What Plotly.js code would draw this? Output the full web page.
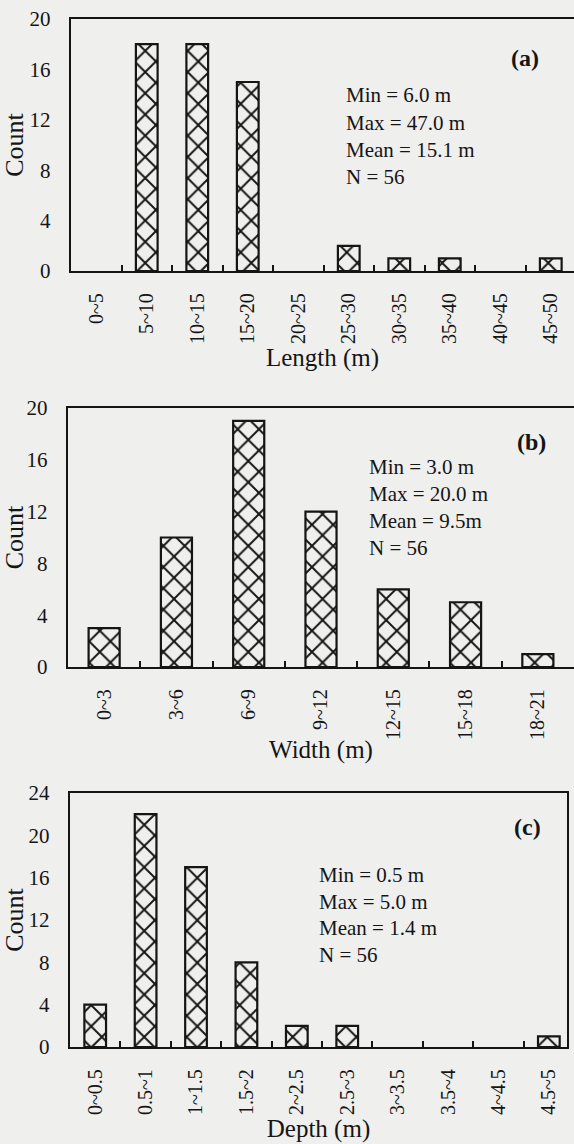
<!DOCTYPE html>
<html>
<head>
<meta charset="utf-8">
<script src="https://cdn.plot.ly/plotly-3.0.1.min.js"></script>
<style>html,body{margin:0;padding:0;background:#efefee;}</style>
</head>
<body>
<div id="chart" style="width:574px;height:1144px;"></div>
<script>
// Panel (a): length
const lengthBins = ["0~5","5~10","10~15","15~20","20~25","25~30","30~35","35~40","40~45","45~50"];
const lengthCounts = [0,18,18,15,0,2,1,1,0,1];
const lengthStats = ["Min = 6.0 m","Max = 47.0 m","Mean = 15.1 m","N = 56"];

// Panel (b): width
const widthBins = ["0~3","3~6","6~9","9~12","12~15","15~18","18~21"];
const widthCounts = [3,10,19,12,6,5,1];
const widthStats = ["Min = 3.0 m","Max = 20.0 m","Mean = 9.5m","N = 56"];

// Panel (c): depth
const depthBins = ["0~0.5","0.5~1","1~1.5","1.5~2","2~2.5","2.5~3","3~3.5","3.5~4","4~4.5","4.5~5"];
const depthCounts = [4,22,17,8,2,2,0,0,0,1];
const depthStats = ["Min = 0.5 m","Max = 5.0 m","Mean = 1.4 m","N = 56"];

const panelLabels = ["(a)","(b)","(c)"];
const axisTitles = ["Length (m)","Width (m)","Depth (m)"];

const W = 574, H = 1144;
const FONT = "Liberation Serif, Times New Roman, serif";
const INK = "#151515";
const BG = "#efefee";

function barTrace(x, y, xa, ya) {
  return {
    type: "bar", x: x, y: y, xaxis: xa, yaxis: ya,
    width: 0.43,
    marker: {
      color: BG,
      line: {color: INK, width: y.map(function (v) { return v > 0 ? 2.2 : 0; })},
      pattern: {shape: "x", fgcolor: INK, bgcolor: BG, size: 15, solidity: 0.24}
    },
    hoverinfo: "x+y", showlegend: false
  };
}

const data = [
  barTrace(lengthBins, lengthCounts, "x", "y"),
  barTrace(widthBins, widthCounts, "x2", "y2"),
  barTrace(depthBins, depthCounts, "x3", "y3")
];

function xAxis(domain, range, anchor, title) {
  return {
    domain: domain, range: range, anchor: anchor, type: "category",
    showline: true, linecolor: INK, linewidth: 2.2, mirror: true,
    ticks: "inside", tickson: "boundaries", ticklen: 6, tickwidth: 2, tickcolor: INK,
    tickangle: -90, ticklabelstandoff: 12,
    tickfont: {family: FONT, size: 20, color: INK},
    showgrid: false, zeroline: false, fixedrange: true,
    title: {text: title, font: {family: FONT, size: 25, color: INK}, standoff: 2}
  };
}
function yAxis(domain, range, anchor, mirror) {
  return {
    domain: domain, range: range, anchor: anchor, dtick: 4, tick0: 0,
    showline: true, linecolor: INK, linewidth: 2.2, mirror: mirror,
    ticks: "", ticklabelstandoff: 14,
    tickfont: {family: FONT, size: 21, color: INK},
    showgrid: false, zeroline: false, fixedrange: true,
    title: {text: "Count", font: {family: FONT, size: 26, color: INK}, standoff: 2}
  };
}

function px2x(px) { return px / W; }
function px2y(py) { return 1 - py / H; }

const annotations = [];
function addStats(lines, left, ys) {
  lines.forEach(function (t, i) {
    annotations.push({
      xref: "paper", yref: "paper", x: px2x(left), y: px2y(ys[i]),
      xanchor: "left", yanchor: "middle", showarrow: false, text: t,
      font: {family: FONT, size: 21, color: INK}
    });
  });
}
function addLabel(t, cx, cy) {
  annotations.push({
    xref: "paper", yref: "paper", x: px2x(cx), y: px2y(cy),
    xanchor: "center", yanchor: "middle", showarrow: false, text: "<b>" + t + "</b>",
    font: {family: FONT, size: 24, color: INK}
  });
}
addStats(lengthStats, 344, [95, 123, 150, 177]);
addStats(widthStats, 367, [467, 494, 521, 548]);
addStats(depthStats, 317, [875, 902, 928, 955]);
addLabel(panelLabels[0], 525, 58);
addLabel(panelLabels[1], 531, 442);
addLabel(panelLabels[2], 527, 827);

const layout = {
  width: W, height: H,
  margin: {l: 0, r: 0, t: 0, b: 0},
  paper_bgcolor: BG, plot_bgcolor: BG,
  bargap: 0,
  xaxis: xAxis([71 / W, 1], [-0.5, 9.46], "y", axisTitles[0]),
  yaxis: yAxis([px2y(271), px2y(19)], [0, 20], "x", false),
  xaxis2: xAxis([68 / W, 1], [-0.5, 6.5], "y2", axisTitles[1]),
  yaxis2: yAxis([px2y(667), px2y(408)], [0, 20], "x2", false),
  xaxis3: xAxis([70 / W, 567 / W], [-0.5, 9.36], "y3", axisTitles[2]),
  yaxis3: yAxis([px2y(1047), px2y(793)], [0, 24], "x3", true),
  annotations: annotations
};

Plotly.newPlot("chart", data, layout, {displayModeBar: false, staticPlot: true});
</script>
</body>
</html>
